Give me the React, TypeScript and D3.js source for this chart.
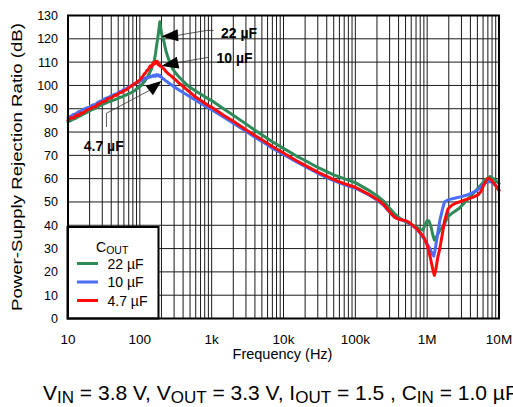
import React from "react";
import * as d3 from "d3";

// ---- Data (frequency in Hz, PSRR in dB) ----
const cout22u: [number, number][] = [
  [10,84.3],[11,85.0],[12,85.6],[13,86.0],[14,86.7],[15,87.0],[16,87.6],[18,88.3],[20,89.1],[22,89.7],[24,90.2],[26,90.9],[28,91.3],[30,91.8],[33,92.3],[36,92.9],[40,93.3],[44,93.8],[48,94.2],[52,94.8],[56,95.0],[60,95.6],[65,95.9],[70,96.5],[75,96.8],[80,97.4],[85,97.8],[90,98.5],[95,99.0],[100,99.6],[105,100.0],[110,100.9],[115,101.5],[120,102.4],[125,103.4],[130,104.0],[135,105.0],[140,106.1],[145,107.0],[150,108.5],[155,109.5],[160,111.0],[165,113.5],[170,116.5],[175,119.0],[180,121.5],[185,124.5],[190,127.3],[195,125.0],[200,122.5],[207,120.5],[215,119.3],[225,116.3],[236,113.8],[250,111.5],[270,108.8],[290,106.8],[330,104.6],[360,103.3],[400,101.9],[450,100.3],[500,99.2],[600,97.6],[700,96.3],[800,95.2],[900,94.3],[1000,93.5],[1200,91.8],[1500,89.8],[2000,87.2],[3000,83.5],[4000,80.8],[5000,78.8],[7000,75.8],[1e4,73.0],[1.5e4,69.8],[2e4,67.8],[3e4,64.8],[5e4,61.6],[7e4,60.0],[1e5,58.3],[1.5e5,55.2],[2e5,52.7],[2.5e5,50.2],[3e5,47.3],[3.5e5,45.0],[4e5,43.5],[4.5e5,42.3],[5e5,41.5],[6e5,40.3],[7e5,39.4],[8e5,38.2],[8.7e5,38.0],[9.3e5,40.0],[1e6,42.0],[1.06e6,41.8],[1.13e6,39.4],[1.2e6,35.8],[1.26e6,33.7],[1.35e6,35.0],[1.5e6,37.8],[1.7e6,40.0],[1.95e6,43.7],[2.3e6,45.5],[2.8e6,47.3],[3.6e6,50.9],[4.6e6,54.4],[5.6e6,57.3],[6.5e6,59.5],[7.5e6,60.9],[8.6e6,59.7],[1e7,58.0]
];

const cout10u: [number, number][] = [
  [10,86.3],[11,86.8],[12,87.6],[13,87.9],[14,88.7],[15,88.9],[16,89.6],[18,90.3],[20,90.6],[22,91.6],[24,91.8],[26,92.7],[28,93.2],[30,93.5],[33,94.4],[36,94.7],[40,95.5],[44,96.1],[48,96.4],[52,97.3],[56,97.5],[60,98.3],[65,98.6],[70,99.4],[75,99.7],[80,100.4],[85,100.6],[90,101.2],[95,101.3],[100,101.9],[105,102.0],[110,102.6],[115,102.7],[120,103.2],[125,103.0],[130,103.6],[135,103.4],[140,103.9],[145,103.7],[150,104.2],[155,103.9],[160,104.4],[165,104.0],[170,104.6],[175,104.2],[180,104.5],[185,104.0],[190,104.3],[195,103.7],[200,103.6],[210,102.9],[220,102.5],[230,101.9],[240,101.6],[250,101.1],[270,100.4],[300,99.4],[330,98.6],[360,97.8],[400,97.0],[450,96.0],[500,95.1],[600,93.6],[700,92.4],[800,91.3],[900,90.4],[1000,89.6],[1200,88.1],[1500,86.2],[2000,83.8],[3000,80.3],[4000,77.8],[5000,76.0],[7000,73.1],[1e4,70.4],[1.5e4,67.3],[2e4,65.2],[3e4,62.3],[5e4,59.2],[7e4,57.5],[1e5,55.9],[1.5e5,53.2],[2e5,50.9],[2.5e5,48.5],[3e5,45.6],[3.5e5,43.5],[4e5,42.6],[4.5e5,42.2],[5e5,41.8],[6e5,40.3],[7e5,38.6],[8e5,36.6],[9e5,34.2],[1e6,32.0],[1.1e6,29.8],[1.2e6,27.2],[1.24e6,26.8],[1.3e6,30.0],[1.4e6,36.5],[1.5e6,42.0],[1.65e6,47.5],[1.75e6,50.1],[2e6,51.0],[2.4e6,51.6],[3e6,52.3],[3.6e6,53.0],[4.3e6,54.0],[5.1e6,55.2],[6e6,57.5],[6.8e6,58.7],[7.5e6,58.8],[8.2e6,58.2],[9e6,57.0],[1e7,55.0]
];

const cout4u7: [number, number][] = [
  [10,85.0],[11,86.2],[12,86.0],[13,87.3],[14,87.0],[15,88.2],[16,88.0],[18,89.3],[20,89.8],[22,90.6],[24,90.8],[26,91.9],[28,92.3],[30,93.0],[33,93.2],[36,94.4],[40,94.6],[44,95.6],[48,95.9],[52,96.8],[56,97.0],[60,97.8],[65,98.1],[70,99.0],[75,99.6],[80,100.2],[85,100.8],[90,101.2],[95,101.9],[100,102.3],[105,103.3],[110,103.8],[115,104.9],[120,105.3],[125,106.4],[130,106.6],[135,107.6],[140,108.4],[145,108.0],[150,109.0],[155,109.8],[160,109.2],[165,110.4],[170,109.6],[175,110.3],[180,108.9],[185,109.2],[190,108.4],[195,108.6],[200,108.0],[210,107.4],[220,106.9],[230,106.0],[240,105.5],[250,104.9],[270,104.2],[300,102.9],[330,101.8],[360,100.7],[400,99.6],[450,98.2],[500,97.0],[600,95.0],[700,93.6],[800,92.4],[900,91.4],[1000,90.6],[1200,89.0],[1500,87.0],[2000,84.6],[3000,81.0],[4000,78.5],[5000,76.7],[7000,73.8],[1e4,71.0],[1.5e4,67.8],[2e4,65.7],[3e4,62.8],[5e4,59.6],[7e4,57.9],[1e5,56.3],[1.5e5,53.5],[2e5,51.2],[2.5e5,48.8],[3e5,45.8],[3.5e5,43.5],[4e5,42.6],[4.5e5,42.3],[5e5,42.0],[5.5e5,41.4],[6e5,40.5],[7e5,38.8],[8e5,36.8],[9e5,34.8],[1e6,31.5],[1.1e6,26.5],[1.2e6,21.0],[1.26e6,18.5],[1.32e6,21.0],[1.4e6,26.0],[1.5e6,30.0],[1.6e6,35.0],[1.75e6,42.0],[1.95e6,47.0],[2.2e6,48.6],[2.5e6,49.5],[3e6,50.3],[3.6e6,51.2],[4.3e6,52.0],[5.1e6,53.0],[5.6e6,54.5],[6.2e6,57.5],[7e6,60.2],[7.6e6,59.8],[8.3e6,58.4],[9e6,57.0],[1e7,55.0]
];

const seriesNames = ["22 \u00B5F", "10 \u00B5F", "4.7 \u00B5F"];
const seriesColors = ["#2E8B57", "#4A6EF5", "#FF0A0A"];
const yTicks = [0, 10, 20, 30, 40, 50, 60, 70, 80, 90, 100, 110, 120, 130];
const xTicks = [10, 100, 1e3, 1e4, 1e5, 1e6, 1e7];
const xTickLabels = ["10", "100", "1k", "10k", "100k", "1M", "10M"];

// annotation anchors (tip point in data space)
const annotations = [
  { label: "22 \u00B5F", f: 200, db: 121.0, base: [16.6, -1.2], path: [[45, -6], [52, -6]], text: [59.5, 1.2] },
  { label: "10 \u00B5F", f: 200, db: 108.3, base: [16.6, -3.5], path: [[46.6, -8.7]], text: [55, -3.5] },
  { label: "4.7 \u00B5F", f: 200, db: 101.9, base: [-12.2, 9.5], path: [[-55, 32.3], [-55, 46]], text: [-77.7, 70.5] },
];

const FONT = "'Liberation Sans', Arial, Helvetica, sans-serif";

export default function App() {
  const W = 513, H = 407;
  const L = 68, R = 499, T = 15.5, B = 318.5;
  const x = d3.scaleLog().domain([10, 1e7]).range([L, R]);
  const y = d3.scaleLinear().domain([0, 130]).range([B, T]);

  const minor: number[] = [];
  for (let d = 10; d < 1e7; d *= 10) {
    for (let k = 2; k <= 9; k++) minor.push(d * k);
  }

  const line = d3.line<[number, number]>()
    .x((d) => x(d[0]))
    .y((d) => y(d[1]))
    .curve(d3.curveLinear);

  const data = [cout22u, cout10u, cout4u7];

  return (
    <svg width={W} height={H} style={{ position: "absolute", left: 0, top: 0, background: "#fff" }} fontFamily={FONT}>
      <rect x={0} y={0} width={W} height={H} fill="#fff" />
      {/* grid */}
      <g stroke="#1a1a1a" strokeWidth={1}>
        {minor.map((f, i) => (
          <line key={"m" + i} x1={x(f)} x2={x(f)} y1={T} y2={B} />
        ))}
        {xTicks.map((f, i) => (
          <line key={"d" + i} x1={x(f)} x2={x(f)} y1={T} y2={B} />
        ))}
        {yTicks.map((v, i) => (
          <line key={"h" + i} x1={L} x2={R} y1={y(v)} y2={y(v)} />
        ))}
      </g>
      {/* curves */}
      <g fill="none" strokeWidth={3} strokeLinejoin="round" strokeLinecap="round">
        {data.map((d, i) => (
          <path key={i} d={line(d) || ""} stroke={seriesColors[i]} />
        ))}
      </g>
      {/* annotations */}
      {annotations.map((a, i) => {
        const tx = x(a.f), ty = y(a.db);
        const bx = tx + a.base[0], by = ty + a.base[1];
        const dx = bx - tx, dy = by - ty;
        const len = Math.hypot(dx, dy);
        const px = -dy / len, py = dx / len;
        const hw = 6;
        const tri = `M${tx},${ty}L${bx + px * hw},${by + py * hw}L${bx - px * hw},${by - py * hw}Z`;
        const pts = [[bx, by], ...a.path.map((p) => [tx + p[0], ty + p[1]])];
        return (
          <g key={"a" + i}>
            <polyline points={pts.map((p) => p.join(",")).join(" ")} fill="none" stroke="#333" strokeWidth={0.8} />
            <path d={tri} fill="#000" />
            <text x={tx + a.text[0]} y={ty + a.text[1]} fontSize={14} fontWeight="bold" fill="#000">{a.label}</text>
          </g>
        );
      })}
      {/* legend */}
      <g>
        <rect x={67.5} y={227} width={91} height={B - 227} fill="#fff" stroke="#000" strokeWidth={2} />
        <text x={96} y={251.5} fontSize={14} fill="#000">
          C<tspan fontSize={10.5} dy={2.5}>OUT</tspan>
        </text>
        {seriesNames.map((n, i) => (
          <g key={"l" + i}>
            <line x1={77} x2={98} y1={263.5 + i * 18.5} y2={263.5 + i * 18.5} stroke={seriesColors[i]} strokeWidth={3} />
            <text x={107.5} y={268.5 + i * 18.5} fontSize={14} fill="#000">{n}</text>
          </g>
        ))}
      </g>
      {/* frame */}
      <rect x={L} y={T} width={R - L} height={B - T} fill="none" stroke="#000" strokeWidth={2} />
      {/* y ticks */}
      {yTicks.map((v, i) => (
        <text key={"yt" + i} x={58} y={y(v)} dy="0.36em" textAnchor="end" fontSize={12.5} fill="#000">{v}</text>
      ))}
      {/* x ticks */}
      {xTicks.map((f, i) => (
        <text key={"xt" + i} x={x(f)} y={343.5} textAnchor="middle" fontSize={13.5} fill="#000">{xTickLabels[i]}</text>
      ))}
      <text x={282.5} y={359} textAnchor="middle" fontSize={14.5} fill="#000">Frequency (Hz)</text>
      <text transform={`translate(22,${(T + B) / 2}) rotate(-90)`} textAnchor="middle" fontSize={14.5}
        textLength={288} lengthAdjust="spacingAndGlyphs" fill="#000">
        Power-Supply Rejection Ratio (dB)
      </text>
      {/* caption */}
      <text x={43} y={399.5} fontSize={21} fill="#000">
        V<tspan fontSize={17} dy={3.5}>IN</tspan>
        <tspan dy={-3.5}> = 3.8 V, V</tspan>
        <tspan fontSize={17} dy={3.5}>OUT</tspan>
        <tspan dy={-3.5}> = 3.3 V, I</tspan>
        <tspan fontSize={17} dy={3.5}>OUT</tspan>
        <tspan dy={-3.5}> = 1.5 , C</tspan>
        <tspan fontSize={17} dy={3.5}>IN</tspan>
        <tspan dy={-3.5}> = 1.0 {"\u00B5"}F</tspan>
      </text>
    </svg>
  );
}
